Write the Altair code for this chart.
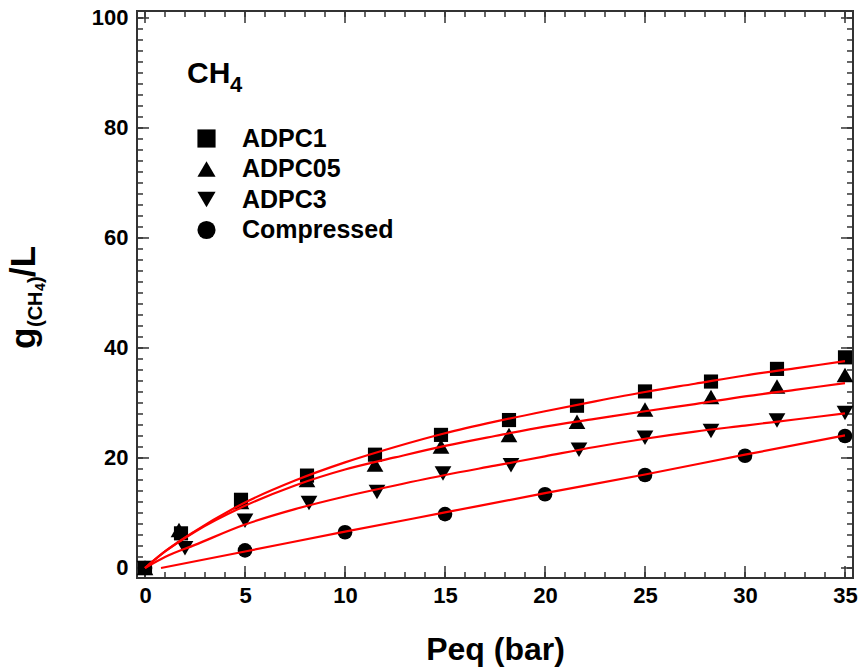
import altair as alt
import pandas as pd

# ---------------- data ----------------
series_names = ["ADPC1", "ADPC05", "ADPC3", "Compressed"]
series_shapes = ["square", "triangle-up", "triangle-down", "circle"]

adpc1_p = [0, 1.8, 4.8, 8.1, 11.5, 14.8, 18.2, 21.6, 25.0, 28.3, 31.6, 35.0]
adpc1_g = [0, 6.3, 12.4, 16.8, 20.6, 24.2, 26.9, 29.5, 32.1, 33.9, 36.2, 38.3]
adpc05_p = [0, 1.7, 4.8, 8.1, 11.5, 14.8, 18.2, 21.6, 25.0, 28.3, 31.6, 35.0]
adpc05_g = [0, 6.9, 12.0, 16.0, 18.8, 22.1, 24.2, 26.6, 28.8, 31.1, 33.0, 35.1]
adpc3_p = [0, 2.0, 5.0, 8.2, 11.6, 14.9, 18.3, 21.7, 25.0, 28.3, 31.6, 35.0]
adpc3_g = [0, 3.6, 8.6, 11.8, 13.8, 17.2, 18.7, 21.5, 23.7, 24.9, 26.8, 28.2]
comp_p = [0, 5, 10, 15, 20, 25, 30, 35]
comp_g = [0, 3.2, 6.5, 9.8, 13.4, 16.9, 20.4, 24.0]

# fitted curves
fit_p = [0, 1, 2.5, 5, 7.5, 10, 12.5, 15, 17.5, 20, 22.5, 25, 27.5, 30, 32.5, 35]
fit_adpc1 = [0, 3.0, 6.7, 11.9, 15.9, 19.2, 22.0, 24.5, 26.6, 28.5, 30.3, 32.0, 33.5, 35.0, 36.3, 37.6]
fit_adpc05 = [0, 3.0, 6.6, 11.3, 15.0, 17.9, 20.1, 22.2, 24.0, 25.7, 27.1, 28.5, 29.8, 31.2, 32.4, 33.6]
fit_adpc3 = [0, 2.0, 4.2, 7.9, 10.7, 13.0, 15.0, 16.9, 18.6, 20.3, 22.0, 23.5, 24.8, 25.9, 27.0, 28.1]
fit_comp_p = [0.8, 5, 10, 15, 20, 25, 30, 35]
fit_comp = [0, 3.0, 6.6, 10.1, 13.6, 17.0, 20.6, 24.1]

x_major = [0, 5, 10, 15, 20, 25, 30, 35]
x_minor = [0, 1, 2, 3, 4, 5, 6, 7, 8, 9, 10, 11, 12, 13, 14, 15, 16, 17, 18,
           19, 20, 21, 22, 23, 24, 25, 26, 27, 28, 29, 30, 31, 32, 33, 34, 35]
y_major = [0, 20, 40, 60, 80, 100]
y_minor = [0, 2, 4, 6, 8, 10, 12, 14, 16, 18, 20, 22, 24, 26, 28, 30, 32, 34,
           36, 38, 40, 42, 44, 46, 48, 50, 52, 54, 56, 58, 60, 62, 64, 66, 68,
           70, 72, 74, 76, 78, 80, 82, 84, 86, 88, 90, 92, 94, 96, 98, 100]

# ---------------- tables ----------------
pt_tables = {
    "ADPC1": pd.DataFrame({"P": adpc1_p, "g": adpc1_g, "series": "ADPC1"}),
    "ADPC05": pd.DataFrame({"P": adpc05_p, "g": adpc05_g, "series": "ADPC05"}),
    "ADPC3": pd.DataFrame({"P": adpc3_p, "g": adpc3_g, "series": "ADPC3"}),
    "Compressed": pd.DataFrame({"P": comp_p, "g": comp_g, "series": "Compressed"}),
}
marker_size = {"ADPC1": 200, "ADPC05": 280, "ADPC3": 280, "Compressed": 215}

fits = pd.concat([
    pd.DataFrame({"P": fit_p, "g": fit_adpc1, "series": "ADPC1"}),
    pd.DataFrame({"P": fit_p, "g": fit_adpc05, "series": "ADPC05"}),
    pd.DataFrame({"P": fit_p, "g": fit_adpc3, "series": "ADPC3"}),
    pd.DataFrame({"P": fit_comp_p, "g": fit_comp, "series": "Compressed"}),
], ignore_index=True)

FONT = "Liberation Sans, Arial, sans-serif"
W, H = 716, 567
TICK = "#333333"

xscale = alt.Scale(domain=[-0.4, 35.4], nice=False, zero=False)
yscale = alt.Scale(domain=[-1.82, 101.27], nice=False, zero=False)

xaxis = alt.Axis(values=x_major, ticks=False, tickSize=0, domain=False, grid=False,
                 labelFont=FONT, labelFontSize=22, labelFontWeight="bold",
                 labelColor="black", labelPadding=7,
                 title="Peq (bar)", titleFont=FONT, titleFontSize=32,
                 titleFontWeight="bold", titleColor="black", titlePadding=28)
yaxis = alt.Axis(values=y_major, ticks=False, tickSize=0, domain=False, grid=False,
                 labelFont=FONT, labelFontSize=22, labelFontWeight="bold",
                 labelColor="black", labelPadding=9, title=None)

shape_enc = alt.Shape(
    "series:N", scale=alt.Scale(domain=series_names, range=series_shapes),
    legend=alt.Legend(orient="none", legendX=57, legendY=115, title=None,
                      labelFont=FONT, labelFontSize=25, labelFontWeight="bold",
                      labelColor="black", symbolSize=330,
                      symbolFillColor="black", symbolStrokeColor="black",
                      symbolStrokeWidth=0, labelOffset=23, rowPadding=4.5,
                      padding=0))


def X(field="P"):
    return alt.X(f"{field}:Q", scale=xscale, axis=xaxis)


def Y(field="g"):
    return alt.Y(f"{field}:Q", scale=yscale, axis=yaxis)


point_layers = [
    alt.Chart(pt_tables[s]).mark_point(filled=True, opacity=1, color="black",
                                       size=marker_size[s]).encode(
        x=X(), y=Y(), shape=shape_enc)
    for s in series_names
]

lines = alt.Chart(fits).mark_line(color="#ff0000", strokeWidth=2.2, interpolate="monotone").encode(
    x=X(), y=Y(), detail="series:N"
)

# inward ticks on all four sides
xmaj = pd.DataFrame({"P": x_major})
xmin = pd.DataFrame({"P": x_minor})
ymaj = pd.DataFrame({"g": y_major})
ymin = pd.DataFrame({"g": y_minor})


def xticks(df, length):
    bottom = alt.Chart(df).mark_rule(color=TICK, strokeWidth=1.5).encode(
        x=X(), y=alt.value(H), y2=alt.value(H - length))
    top = alt.Chart(df).mark_rule(color=TICK, strokeWidth=1.5).encode(
        x=X(), y=alt.value(0), y2=alt.value(length))
    return [bottom, top]


def yticks(df, length):
    left = alt.Chart(df).mark_rule(color=TICK, strokeWidth=1.5).encode(
        y=Y(), x=alt.value(0), x2=alt.value(length))
    right = alt.Chart(df).mark_rule(color=TICK, strokeWidth=1.5).encode(
        y=Y(), x=alt.value(W), x2=alt.value(W - length))
    return [left, right]


tick_layers = xticks(xmin, 6) + xticks(xmaj, 12) + yticks(ymin, 6) + yticks(ymaj, 12)


def label(text, x, y, size, angle=0):
    kw = dict(align="left", baseline="alphabetic", font=FONT, fontSize=size,
              fontWeight="bold", color="black")
    if angle:
        kw["angle"] = angle
    return alt.Chart(pd.DataFrame({"t": [text]})).mark_text(**kw).encode(
        text="t:N", x=alt.value(x), y=alt.value(y))


annotations = [
    label("CH", 50, 72, 30),
    label("4", 93, 81, 22),
    # y-axis title  g(CH4)/L  (rotated)
    label("g", -102, 338, 35, 270),
    label("(CH", -95, 316, 20, 270),
    label("4", -92, 280, 14, 270),
    label(")", -95, 272, 20, 270),
    label("/L", -102, 266, 35, 270),
]

chart = alt.layer(*tick_layers, *point_layers, lines, *annotations).properties(
    width=W, height=H,
    autosize=alt.AutoSizeParams(type="none"),
    padding={"left": 137, "top": 11, "right": 8, "bottom": 94},
).configure_view(stroke="#333333", strokeWidth=2)

chart.save("out.html", embed_options={"renderer": "svg", "actions": False})
